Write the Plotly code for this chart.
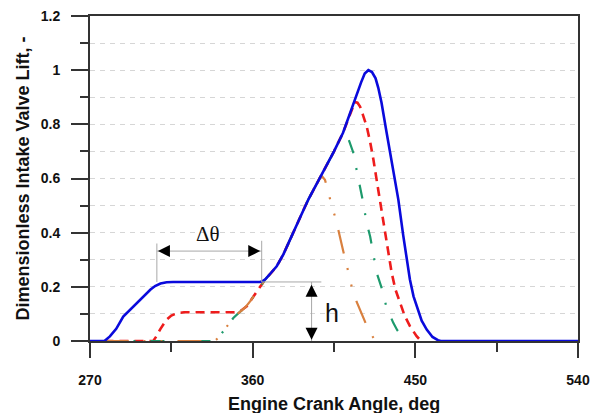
import plotly.graph_objects as go

# ---------------- data ----------------
blue_x = [270, 278, 281, 284.5, 288.4, 294, 299.5, 303.5, 306, 309, 312.4, 316, 364,
          365.5, 367, 370, 373.3, 377, 380.6, 384, 388, 391, 394, 397, 401, 405, 410,
          414, 415.5, 417.5, 420, 422, 424, 426, 428, 429.5, 431.3, 434.1, 436, 437.8,
          440.6, 443.3, 445, 447, 449, 450.7, 453.5, 456.3, 459.5, 462.5, 464, 540]
blue_y = [0, 0, 0.017, 0.045, 0.09, 0.128, 0.165, 0.19, 0.203, 0.212, 0.217, 0.218, 0.218,
          0.221, 0.228, 0.25, 0.276, 0.32, 0.375, 0.425, 0.482, 0.525, 0.562, 0.6, 0.645, 0.7, 0.769,
          0.845, 0.87, 0.904, 0.955, 0.988, 1.0, 0.993, 0.97, 0.935, 0.88, 0.77, 0.695, 0.621,
          0.522, 0.39, 0.31, 0.227, 0.165, 0.128, 0.075, 0.042, 0.015, 0.003, 0, 0]

red_x = [278, 305, 306.5, 309, 312.4, 315, 318, 322, 351, 353.5, 356.7, 359, 362, 365.9,
         367, 370, 373.3, 377, 380.6, 384, 388, 391, 394, 397, 401, 405, 410, 413, 415.5,
         416.5, 418, 419.4, 421, 423.1, 425, 426.8, 429.6, 431.5, 433.2, 436.9, 439, 441.5,
         444, 447, 450.7, 452.5, 454]
red_y = [0, 0, 0.015, 0.045, 0.079, 0.094, 0.102, 0.106, 0.106, 0.112, 0.128, 0.15, 0.18, 0.22,
         0.228, 0.25, 0.276, 0.32, 0.375, 0.425, 0.482, 0.525, 0.562, 0.6, 0.645, 0.7, 0.769, 0.82, 0.868,
         0.882, 0.88, 0.866, 0.835, 0.792, 0.735, 0.67, 0.553, 0.47, 0.40, 0.252, 0.19, 0.141,
         0.095, 0.055, 0.018, 0.005, 0]

green_x = [278, 339, 341, 343, 346, 349.3, 352, 356, 359, 362, 365.9, 367, 370, 373.3, 377,
           380.6, 384, 388, 391, 394, 397, 401, 405, 408, 410.5, 412, 414, 415.6, 417.7, 419.4,
           421.2, 423, 425, 426.8, 428.6, 431.3, 433.8, 436, 437.8, 440, 442.4, 444, 445]
green_y = [0, 0, 0.012, 0.03, 0.058, 0.085, 0.102, 0.125, 0.15, 0.18, 0.22, 0.228, 0.25, 0.276, 0.32,
           0.375, 0.425, 0.482, 0.525, 0.562, 0.6, 0.645, 0.7, 0.742, 0.772, 0.765, 0.73, 0.697, 0.625, 0.57,
           0.51, 0.437, 0.386, 0.32, 0.252, 0.197, 0.131, 0.095, 0.067, 0.04, 0.018, 0.005, 0]

orange_x = [278, 339, 341, 343, 346, 349.3, 352, 356, 359, 362, 365.9, 367, 370, 373.3, 377,
            380.6, 384, 388, 391, 394, 397, 398.5, 400, 401.5, 403.7, 406, 408.3, 410, 412.6,
            414.8, 417.5, 420.3, 423, 425, 427, 428]
orange_y = [0, 0, 0.012, 0.03, 0.058, 0.085, 0.102, 0.125, 0.15, 0.18, 0.22, 0.228, 0.25, 0.276, 0.32,
            0.375, 0.425, 0.482, 0.525, 0.562, 0.6, 0.607, 0.595, 0.56, 0.5, 0.45, 0.39, 0.335, 0.264,
            0.2, 0.145, 0.098, 0.058, 0.03, 0.008, 0]

x_ticks = [270, 360, 450, 540]
x_ticklabels = ["270", "360", "450", "540"]
y_ticks = [0, 0.2, 0.4, 0.6, 0.8, 1.0, 1.2]
y_ticklabels = ["0", "0.2", "0.4", "0.6", "0.8", "1", "1.2"]

x_title = "Engine Crank Angle, deg"
y_title = "Dimensionless Intake Valve Lift, -"

# annotation anchors
dtheta_start, dtheta_end = 307, 365
dtheta_arrow_y = 0.332
h_level = 0.218
h_arrow_x = 392.6
h_line_end = 398

# ---------------- figure ----------------
W, H = 593, 413
ML, MR, MT, MB = 90, 15, 16, 72

fig = go.Figure()
fig.add_trace(go.Scatter(x=red_x, y=red_y, mode="lines",
                         line=dict(color="#ee1c1c", width=2.6, dash="9px,6px")))
fig.add_trace(go.Scatter(x=green_x, y=green_y, mode="lines",
                         line=dict(color="#1d9a6c", width=2.2, dash="14px,15px,2px,15px")))
fig.add_trace(go.Scatter(x=orange_x, y=orange_y, mode="lines",
                         line=dict(color="#d9803f", width=2.2, dash="24px,15px,2px,15px,2px,15px")))
fig.add_trace(go.Scatter(x=blue_x, y=blue_y, mode="lines",
                         line=dict(color="#0a0adc", width=2.6)))

grey = "#a8a8a8"
shapes = [
    dict(type="line", x0=dtheta_start, x1=dtheta_start, y0=h_level, y1=0.36),
    dict(type="line", x0=dtheta_end, x1=dtheta_end, y0=h_level, y1=0.37),
    dict(type="line", x0=dtheta_start, x1=dtheta_end, y0=dtheta_arrow_y, y1=dtheta_arrow_y),
    dict(type="line", x0=dtheta_end, x1=h_line_end, y0=h_level, y1=h_level),
    dict(type="line", x0=h_arrow_x, x1=h_arrow_x, y0=0, y1=h_level),
]
for s in shapes:
    s.update(xref="x", yref="y", line=dict(color=grey, width=1))
fig.update_layout(shapes=shapes)

arrow_common = dict(xref="x", yref="y", text="", showarrow=True, arrowhead=2,
                    arrowsize=1.6, arrowwidth=1.5, arrowcolor="black")
fig.add_annotation(x=dtheta_start + 0.6, y=dtheta_arrow_y, ax=7, ay=0, **arrow_common)
fig.add_annotation(x=dtheta_end - 0.8, y=dtheta_arrow_y, ax=-7, ay=0, **arrow_common)
fig.add_annotation(x=h_arrow_x, y=h_level - 0.01, ax=0, ay=7, **arrow_common)
fig.add_annotation(x=h_arrow_x, y=0.005, ax=0, ay=-7, **arrow_common)

fig.add_annotation(x=335.5, y=0.395, xref="x", yref="y", text="Δθ", showarrow=False,
                   font=dict(family="Liberation Serif", size=21, color="#111"))
fig.add_annotation(x=404, y=0.105, xref="x", yref="y", text="h", showarrow=False,
                   font=dict(family="Liberation Sans", size=25, color="#111"))

axis_font = dict(family="Liberation Sans", size=14, color="#111", weight="bold")
title_font = dict(family="Liberation Sans", size=18, color="#111", weight="bold")

# axis titles as paper-positioned text
fig.add_annotation(text=x_title, xref="paper", yref="paper", showarrow=False,
                   x=0.5, y=-(404 - (H - MB)) / (H - MT - MB), xanchor="center", yanchor="middle",
                   font=title_font)
fig.add_annotation(text=y_title, xref="paper", yref="paper", showarrow=False, textangle=-90,
                   x=-(ML - 22) / (W - ML - MR), y=0.5, xanchor="center", yanchor="middle",
                   font=title_font)

fig.update_xaxes(range=[270, 540], tickmode="array", tickvals=x_ticks, ticktext=x_ticklabels,
                 ticks="outside", ticklen=15, tickwidth=1.5, tickcolor="#333",
                 showline=True, linecolor="#333", linewidth=2, mirror=True,
                 showgrid=False, zeroline=False, tickfont=axis_font, automargin=False,
                 ticklabelstandoff=10,
                 minor=dict(dtick=45, tick0=270, ticks="outside", ticklen=9, tickwidth=1.5,
                            tickcolor="#333", showgrid=False))
fig.update_yaxes(range=[0, 1.2], tickmode="array", tickvals=y_ticks, ticktext=y_ticklabels,
                 ticks="outside", ticklen=17, tickwidth=1.5, tickcolor="#333",
                 showline=True, linecolor="#333", linewidth=2, mirror=True,
                 showgrid=True, gridcolor="#d6d6d6", griddash="5px,5px", gridwidth=1,
                 zeroline=False, tickfont=axis_font, ticklabelstandoff=8, automargin=False,
                 minor=dict(dtick=0.1, tick0=0, ticks="outside", ticklen=8, tickwidth=1.5,
                            tickcolor="#333", showgrid=True, gridcolor="#d6d6d6",
                            griddash="5px,5px", gridwidth=1))

fig.update_layout(width=W, height=H, showlegend=False,
                  margin=dict(l=ML, r=MR, t=MT, b=MB, autoexpand=False),
                  plot_bgcolor="white", paper_bgcolor="white")

fig.write_html("out.html")
